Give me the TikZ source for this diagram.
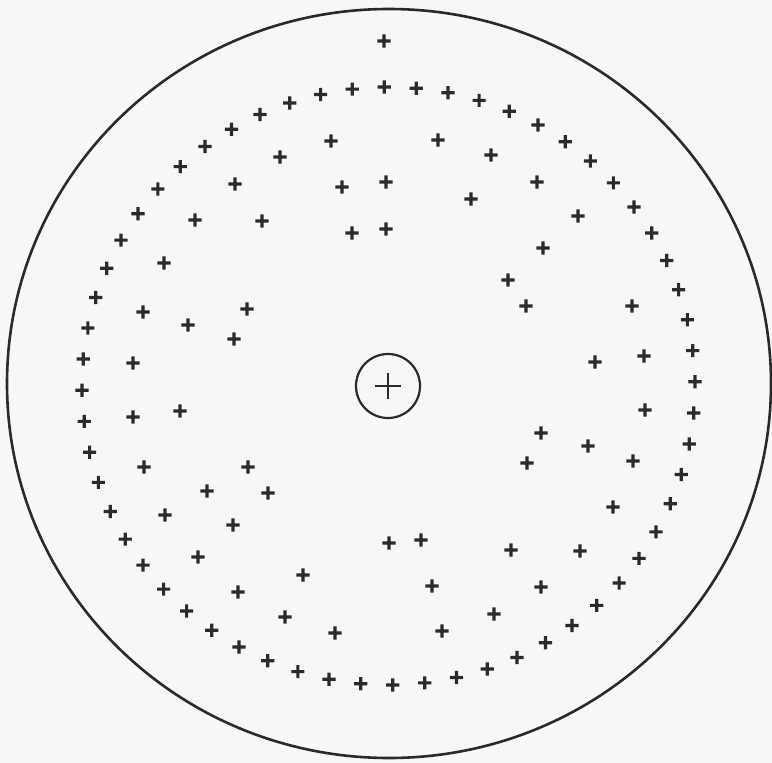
\documentclass[tikz,border=0pt]{standalone}
\usepackage{tikz}
\usepackage{xcolor}
\definecolor{inkcolor}{RGB}{42,42,42}
\definecolor{papercolor}{RGB}{247,247,247}

\begin{document}
\begin{tikzpicture}[
  x=1pt, y=-1pt,
  rimline/.style={draw=inkcolor, line width=2.6pt},
  hubline/.style={draw=inkcolor, line width=2.2pt},
  plusfill/.style={fill=inkcolor},
]

%% ─── Paper and frame ─────────────────────────────────────────────────────────

\fill[papercolor] (0,0) rectangle (772,763);
\useasboundingbox (0,0) rectangle (772,763);

\draw[rimline] (389,383.5) ellipse [x radius=382, y radius=374.5];

%% ─── Hub circle with centre cross ────────────────────────────────────────────

\node[circle, hubline, minimum size=64pt, inner sep=0pt] (hub) at (388,386) {};
\draw[hubline] ([xshift=-13pt]hub.center) -- ([xshift=13pt]hub.center)
               ([yshift=-13pt]hub.center) -- ([yshift=13pt]hub.center);

%% ─── Ring of sixty crosses, one per 6 degree wedge ───────────────────────────

\foreach \k in {0,...,59}{
  \pgfmathsetmacro{\px}{388.5+306.5*cos(6*\k-0.8)}
  \pgfmathsetmacro{\py}{386+299*sin(6*\k-0.8)}
  \fill[plusfill] (\px-6.6,\py-1.6) rectangle (\px+6.6,\py+1.6)
                  (\px-1.6,\py-6.6) rectangle (\px+1.6,\py+6.6);
}

%% ─── Scattered crosses inside the ring ───────────────────────────────────────

\foreach \px/\py in {384/41,
    331/141, 438/140, 280/157, 491/155, 342/187, 386/182, 471/199,
    262/221, 352/233, 386/229, 235/184, 195/220, 537/182, 578/216, 543/248,
    164/263, 143/312, 247/309, 188/325, 234/339, 133/363, 133/417,
    180/411, 144/467, 248/467, 207/491, 508/280, 268/493,
    526/306, 632/306, 595/362, 644/356, 645/410, 541/433, 588/446,
    527/463, 633/461, 613/507,
    165/515, 233/525, 198/557, 238/592, 389/543, 421/540, 511/550,
    303/575, 432/586, 285/617, 335/633, 442/631, 494/614, 580/551, 541/587}{
  \fill[plusfill] (\px-6.6,\py-1.6) rectangle (\px+6.6,\py+1.6)
                  (\px-1.6,\py-6.6) rectangle (\px+1.6,\py+6.6);
}

\end{tikzpicture}
\end{document}
